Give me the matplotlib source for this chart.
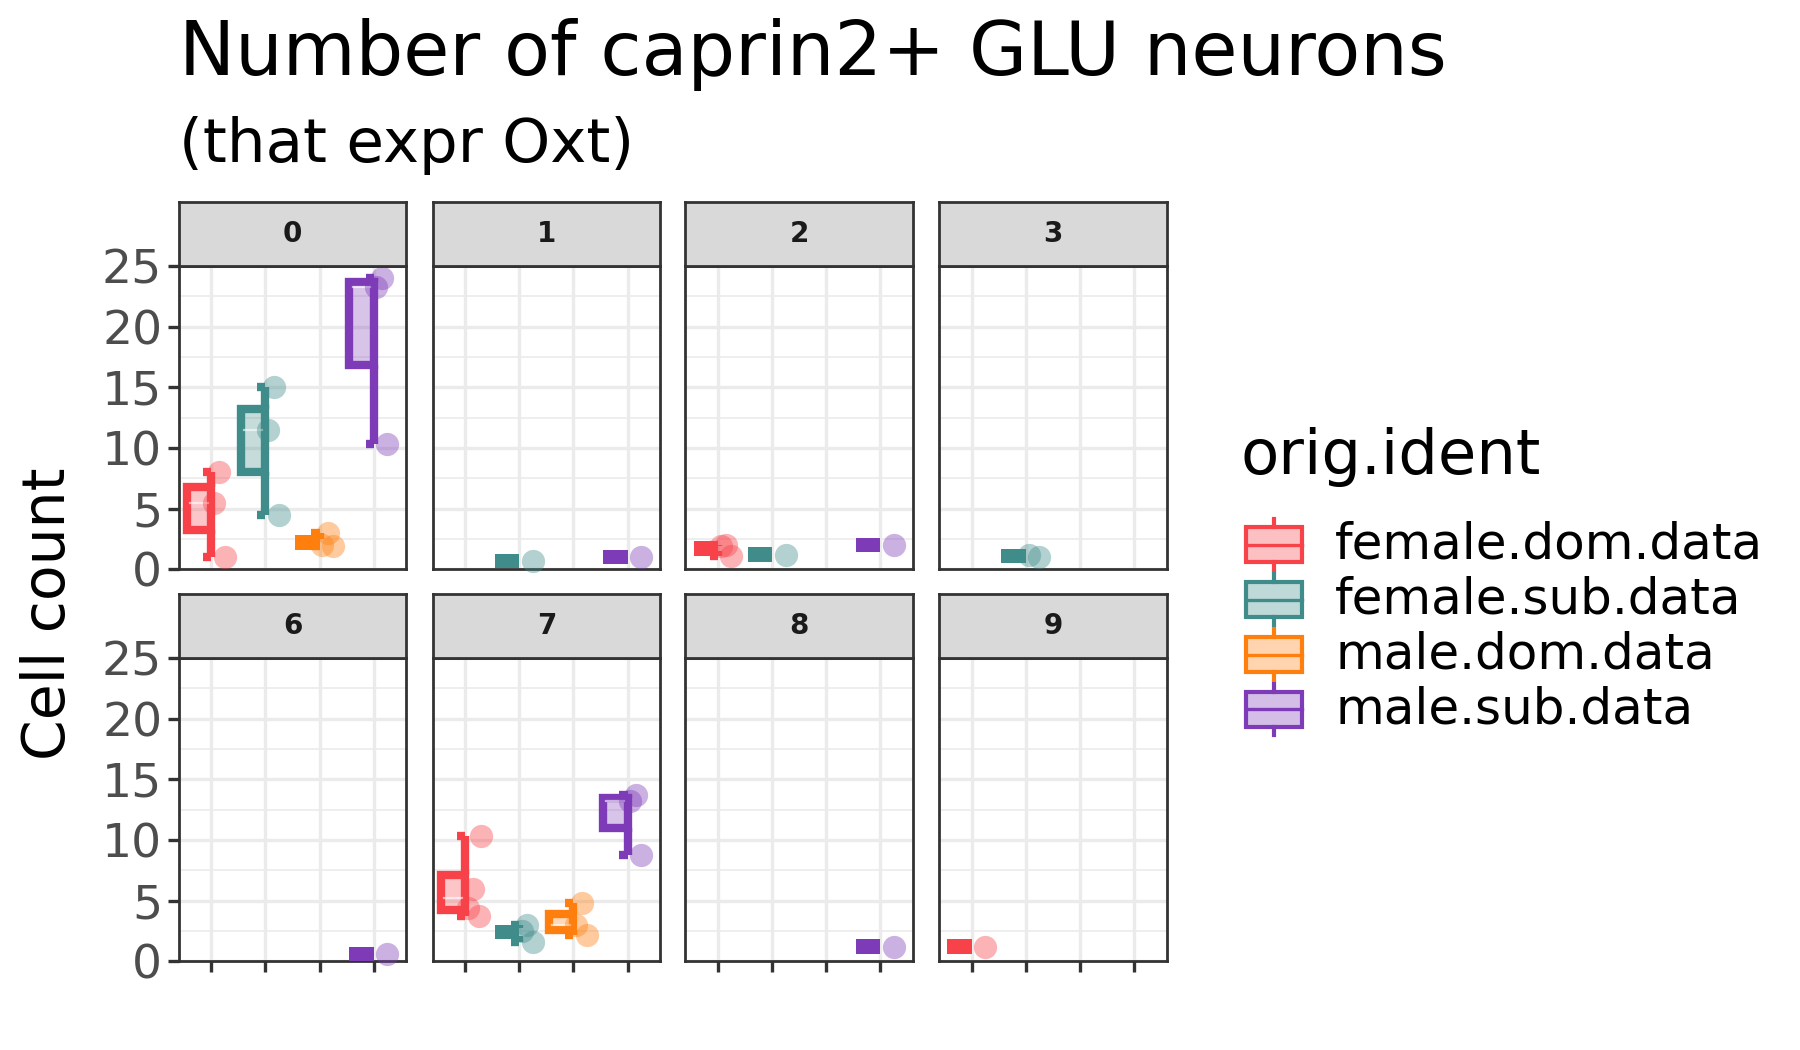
import matplotlib
matplotlib.use("Agg")
import matplotlib.pyplot as plt
import numpy as np
from matplotlib.patches import Rectangle
from matplotlib.lines import Line2D

plt.rcParams['font.family'] = ['DejaVu Sans']

groups = ["female.dom.data", "female.sub.data", "male.dom.data", "male.sub.data"]
colors = ["#F8424A", "#3F8C8A", "#FF7F0E", "#7E3BB8"]
panels = ["0", "1", "2", "3", "6", "7", "8", "9"]
data = {
    "0": {0: [1, 5.5, 8], 1: [4.5, 11.5, 15], 2: [1.9, 2, 3], 3: [10.3, 23.3, 24]},
    "1": {1: [0.7], 3: [1]},
    "2": {0: [1.1, 1.9, 2], 1: [1.2], 3: [2]},
    "3": {1: [1, 1.2]},
    "6": {3: [0.6]},
    "7": {0: [3.7, 4.4, 6, 10.3], 1: [1.6, 2.5, 3], 2: [2.2, 3, 4.8], 3: [8.8, 13.2, 13.7]},
    "8": {3: [1.2]},
    "9": {0: [1.2]},
}
yticks = [0, 5, 10, 15, 20, 25]

W, H = 1560, 900
fig = plt.figure(figsize=(9, 5.25), dpi=200)
xs = [155, 375, 594, 814]
pw = 197
rows = [(173, 228, 488), (509, 564, 824)]
LW = 3.0

def q(v, p):
    return float(np.percentile(v, p))

for i, pn in enumerate(panels):
    r, c = divmod(i, 4)
    st, top, bot = rows[r]
    x0 = xs[c]
    ax = fig.add_axes([x0 / W, 1 - bot / H, pw / W, (bot - top) / H])
    sax = fig.add_axes([x0 / W, 1 - top / H, pw / W, (top - st) / H])
    sax.set_xticks([]); sax.set_yticks([])
    sax.set_facecolor("#D9D9D9")
    for s in sax.spines.values():
        s.set_color("#333333"); s.set_linewidth(1)
    sax.text(0.5, 0.5, pn, ha="center", va="center", fontsize=10, fontweight="bold", color="#1A1A1A", transform=sax.transAxes)
    ax.set_xlim(0.4, 4.6)
    ax.set_ylim(0, 25)
    ax.set_yticks(yticks)
    ax.set_yticks([2.5, 7.5, 12.5, 17.5, 22.5], minor=True)
    ax.set_xticks([1, 2, 3, 4])
    ax.grid(True, which="major", color="#EBEBEB", lw=1.2)
    ax.grid(True, which="minor", axis="y", color="#EBEBEB", lw=0.6)
    ax.tick_params(which="minor", length=0)
    ax.set_axisbelow(True)
    for s in ax.spines.values():
        s.set_color("#333333"); s.set_linewidth(1)
    ax.tick_params(axis="x", labelbottom=False, length=4 if r == 1 else 0, color="#333333", width=1.2)
    if c == 0:
        ax.tick_params(axis="y", which="major", labelsize=17, labelcolor="#4D4D4D", length=4, color="#333333", width=1.2, pad=2)
    else:
        ax.tick_params(axis="y", which="major", labelleft=False, length=0)
    for g, vals in data[pn].items():
        col = colors[g]; x = g + 1
        v = np.array(vals)
        q1, med, q3 = q(v, 25), q(v, 50), q(v, 75)
        lo, hi = v.min(), v.max()
        bl = x - 0.45
        if q3 - q1 < 1.0:
            ax.add_patch(Rectangle((bl, (q1 + q3) / 2 - 0.6), 0.45, 1.2, facecolor=col, lw=0, zorder=3))
        else:
            ax.add_patch(Rectangle((bl, q1), 0.45, q3 - q1, facecolor="none", edgecolor=col, lw=LW, zorder=3))
            ax.add_patch(Rectangle((bl + 0.06, q1 + 0.3), 0.33, q3 - q1 - 0.6, facecolor=col, alpha=0.3, lw=0, zorder=3))
            ax.plot([bl + 0.06, x - 0.06], [med, med], color="white", alpha=0.6, lw=0.8, zorder=4)
        ax.plot([x, x], [lo, q1], color=col, lw=LW, zorder=3, solid_capstyle="butt")
        ax.plot([x, x], [q3, hi], color=col, lw=LW, zorder=3, solid_capstyle="butt")
        ax.plot([x - 0.15, x], [lo, lo], color=col, lw=LW, zorder=3, solid_capstyle="butt")
        ax.plot([x - 0.15, x], [hi, hi], color=col, lw=LW, zorder=3, solid_capstyle="butt")
        offs = [0.25, 0.05, 0.15, 0.3]
        for k, val in enumerate(vals):
            ax.scatter(x + offs[k % 4], val, s=70, color=col, alpha=0.4, lw=0, zorder=5, clip_on=False)

fig.text(155 / W, 1 - 47 / H, "Number of caprin2+ GLU neurons", fontsize=27, va="center", ha="left")
fig.text(155 / W, 1 - 125 / H, "(that expr Oxt)", fontsize=22, va="center", ha="left")
fig.text(42 / W, 1 - 526 / H, "Cell count", fontsize=21, rotation=90, va="center", ha="center")

fig.text(1075 / W, 1 - 392 / H, "orig.ident", fontsize=22.5, va="center", ha="left")
for k, g in enumerate(groups):
    y = 1 - (467 + k * 47) / H
    bx = 1080 / W
    fig.patches.append(Rectangle((bx, y - 15 / H), 48 / W, 30 / H, transform=fig.transFigure, facecolor=colors[k] + "55", edgecolor=colors[k], lw=1.5))
    fig.lines.append(Line2D([bx + 24 / W] * 2, [y + 15 / H, y + 22 / H], transform=fig.transFigure, color=colors[k], lw=1.5))
    fig.lines.append(Line2D([bx + 24 / W] * 2, [y - 15 / H, y - 22 / H], transform=fig.transFigure, color=colors[k], lw=1.5))
    fig.lines.append(Line2D([bx, bx + 48 / W], [y, y], transform=fig.transFigure, color=colors[k], lw=1.2))
    fig.text(1157 / W, y, g, fontsize=18, va="center", ha="left")

fig.savefig("out.png", dpi=200, facecolor="white")
